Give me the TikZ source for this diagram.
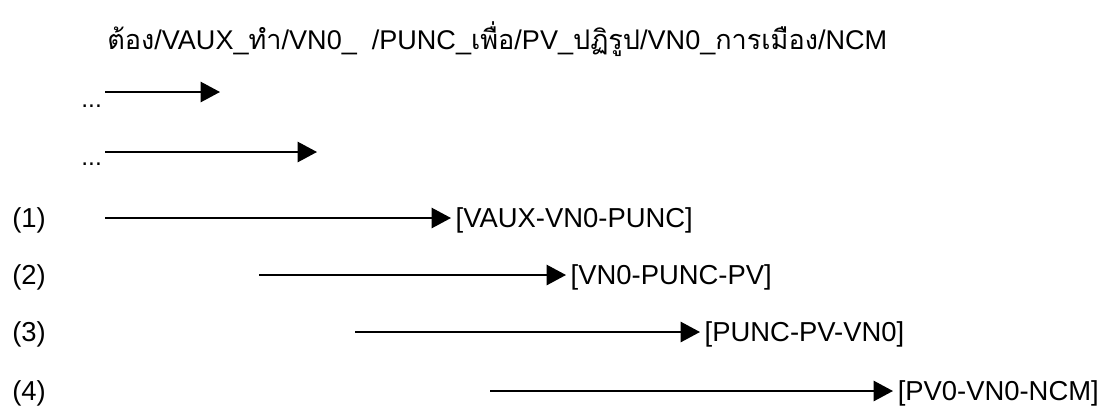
\documentclass[tikz,border=0pt]{standalone}
\usepackage{fontspec}
\setmainfont{Liberation Sans}
\newfontfamily\thaifont[Script=Thai]{Loma}
\usetikzlibrary{arrows.meta}

\begin{document}
\begin{tikzpicture}[x=0.02cm, y=-0.02cm,
    link/.style={line width=1.1pt, -{Triangle[length=11pt, width=11.5pt]}},
    tag/.style={anchor=base west, inner xsep=2.5pt, inner ysep=0pt, font=\fontsize{15.6}{18}\selectfont},
    idx/.style={anchor=base west, inner sep=0pt, font=\fontsize{15.6}{18}\selectfont}]

       \useasboundingbox (0, 0) rectangle (1103, 407);

       % sentence
       \node[tag, inner xsep=0pt, font=\fontsize{15.4}{18}\selectfont] (sent) at (107, 49)
         {{\thaifont ต้อง}/VAUX\_{\thaifont ทำ}/VN0\_\ \ /PUNC\_{\thaifont เพื่อ}/PV\_{\thaifont ปฏิรูป}/VN0\_{\thaifont การเมือง}/NCM};

       % partial rows
       \node[tag, inner xsep=0pt, font=\fontsize{14}{18}\selectfont] (dotsA) at (81, 107) {...};
       \node[tag, inner xsep=0pt, font=\fontsize{14}{18}\selectfont] (dotsB) at (81, 165) {...};
       \coordinate (a0) at (105, 92);
       \coordinate (a1) at (220, 92);
       \coordinate (b0) at (105, 152);
       \coordinate (b1) at (317, 152);
       \draw[link] (a0) to (a1);
       \draw[link] (b0) to (b1);

       % windows
       \node[idx] (n1) at (12, 227) {(1)};
       \node[idx] (n2) at (12, 284) {(2)};
       \node[idx] (n3) at (12, 341) {(3)};
       \node[idx] (n4) at (12, 400) {(4)};

       \coordinate (s1) at (105, 218);
       \coordinate (s2) at (259, 275);
       \coordinate (s3) at (355, 332);
       \coordinate (s4) at (490, 391);

       \node[tag] (w1) at (451, 227) {[VAUX-VN0-PUNC]};
       \node[tag] (w2) at (566, 284) {[VN0-PUNC-PV]};
       \node[tag] (w3) at (700, 341) {[PUNC-PV-VN0]};
       \node[tag] (w4) at (893, 400) {[PV0-VN0-NCM]};

       \draw[link] (s1) to (s1 -| w1.west);
       \draw[link] (s2) to (s2 -| w2.west);
       \draw[link] (s3) to (s3 -| w3.west);
       \draw[link] (s4) to (s4 -| w4.west);
     \end{tikzpicture}
\end{document}
